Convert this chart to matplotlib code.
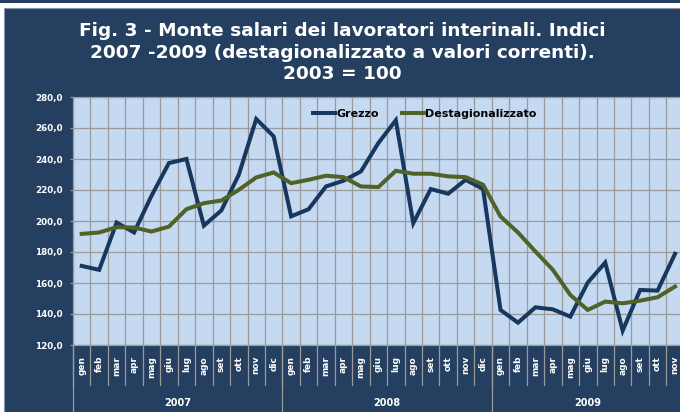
import matplotlib.pyplot as plt
from matplotlib.patches import Rectangle
from matplotlib.lines import Line2D

mesi = ['gen', 'feb', 'mar', 'apr', 'mag', 'giu', 'lug', 'ago', 'set', 'ott', 'nov', 'dic']
anni = ['2007', '2008', '2009']
mesi_per_anno = [12, 12, 11]
etichette = mesi + mesi + mesi[:11]

grezzo = [171.0, 168.5, 199.0, 192.6, 216.3, 237.4, 240.0, 197.0, 206.8, 229.8, 265.8, 254.6,
          203.0, 207.6, 222.3, 226.0, 232.0, 250.3, 265.0, 198.6, 220.6, 217.6, 226.6, 220.6,
          142.6, 134.4, 144.3, 143.0, 138.3, 160.3, 173.2, 129.3, 155.5, 155.1, 178.8]
destag = [191.7, 192.6, 196.0, 195.8, 193.2, 196.4, 207.6, 211.5, 213.2, 220.1, 228.1, 231.3,
          224.4, 226.6, 229.2, 228.3, 222.3, 221.9, 232.4, 230.5, 230.5, 228.8, 228.3, 223.4,
          202.9, 192.6, 180.3, 168.5, 152.3, 142.6, 148.0, 146.9, 148.6, 150.8, 157.7]

titolo = ['Fig. 3 - Monte salari dei lavoratori interinali. Indici',
          '2007 -2009 (destagionalizzato a valori correnti).',
          '2003 = 100']

W, H = 680, 412
navy = '#243f60'
grigio = '#9a9a9a'

fig = plt.figure(figsize=(W / 100, H / 100), dpi=100)
fig.patch.set_facecolor('white')
# pannello scuro e striscia in alto
fig.patches.append(Rectangle((3.5 / W, -0.01), 1.1, (H - 8) / H + 0.01, transform=fig.transFigure,
                             facecolor=navy, edgecolor='#8594a8', lw=0.8, zorder=-10))
fig.patches.append(Rectangle((0, (H - 2.7) / H), 1, 2.7 / H, transform=fig.transFigure,
                             facecolor=navy, lw=0, zorder=-10))

for i, riga in enumerate(titolo):
    fig.text(342 / W, 1 - (31 + 21.5 * i) / H, riga, ha='center', va='center',
             color='white', fontsize=13.3, fontweight='bold')

cell = 17.45
ax = fig.add_axes([73 / W, (H - 345) / H, 35 * cell / W, 248 / H])
ax.set_facecolor('#c5d9f1')

x = list(range(len(grezzo)))
ax.plot(x, grezzo, color='#17375e', lw=2.9, label='Grezzo', solid_joinstyle='miter')
ax.plot(x, destag, color='#4f6228', lw=2.9, label='Destagionalizzato', solid_joinstyle='miter')

ax.set_xlim(-0.5, len(grezzo) - 0.5)
ax.set_ylim(120, 280)
ax.set_yticks(range(120, 281, 20))
ax.set_yticklabels([f'{v},0' for v in range(120, 281, 20)])
ax.set_xticks([i + 0.5 for i in range(-1, len(grezzo))])
ax.set_xticklabels([])
ax.tick_params(axis='x', length=0)
ax.tick_params(axis='y', length=2.5, width=0.8, color=grigio, pad=5,
               labelsize=6.3, labelcolor='white')
for t in ax.get_yticklabels():
    t.set_fontweight('bold')
ax.grid(True, color=grigio, lw=0.9)
ax.set_axisbelow(True)
for s in ax.spines.values():
    s.set_color(grigio)
    s.set_linewidth(0.9)

# etichette mesi e anni sotto l'asse
tr = ax.get_xaxis_transform()
fondo = -(H - 345) / 248
for i, m in enumerate(etichette):
    ax.text(i, -11 / 248, m, transform=tr, rotation=90, ha='center', va='top',
            color='white', fontsize=6.5, fontweight='bold')
for i in range(len(etichette) + 1):
    ax.add_line(Line2D([i - 0.5, i - 0.5], [0, -40 / 248], transform=tr,
                       color=grigio, lw=0.9, clip_on=False))
inizio = 0
for anno, n in zip(anni, mesi_per_anno):
    ax.add_line(Line2D([inizio - 0.5, inizio - 0.5], [0, fondo], transform=tr,
                       color=grigio, lw=0.9, clip_on=False))
    ax.text(inizio + (n - 1) / 2, -58 / 248, anno, transform=tr, ha='center', va='center',
            color='white', fontsize=7, fontweight='bold')
    inizio += n

leg = ax.legend(loc='center left', bbox_to_anchor=((313 - 73) / (35 * cell), (345 - 114) / 248),
                ncol=2, frameon=False, fontsize=8, handlelength=2.0, handletextpad=0.1,
                columnspacing=2.1, borderpad=0, borderaxespad=0)
for t in leg.get_texts():
    t.set_fontweight('bold')

fig.savefig('out.png', dpi=100)
